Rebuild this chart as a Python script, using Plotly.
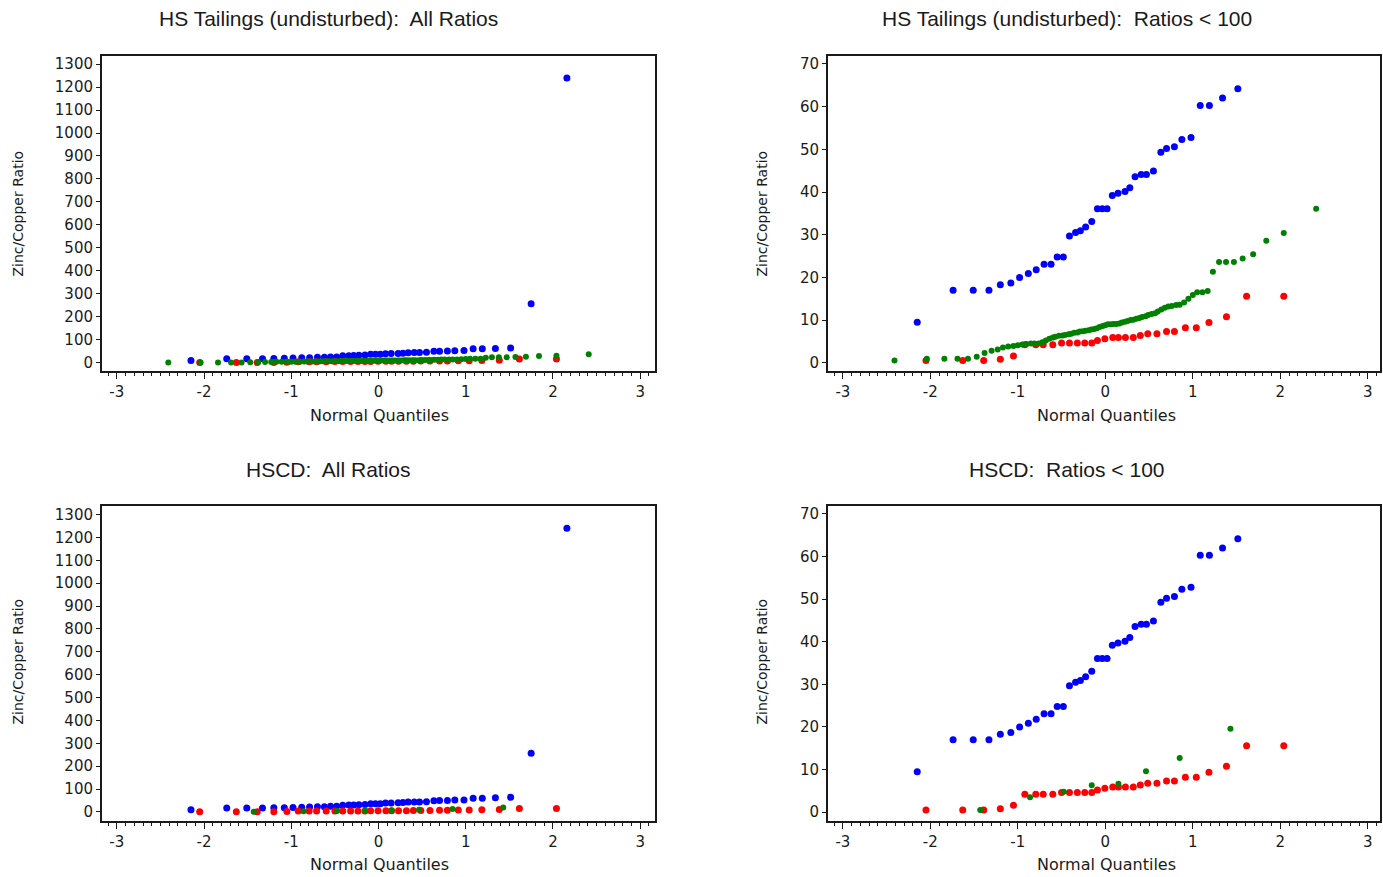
import plotly.graph_objects as go

# ---------------- data: normal quantile (q) and sorted Zn/Cu ratio (v) ----------------
blue_q = [-2.15, -1.74, -1.51, -1.33, -1.20, -1.08, -0.98, -0.88, -0.79, -0.70,
          -0.62, -0.55, -0.48, -0.41, -0.34, -0.285, -0.225, -0.155, -0.09, -0.035,
          0.02, 0.08, 0.145, 0.225, 0.28, 0.34, 0.41, 0.47, 0.55, 0.635,
          0.70, 0.79, 0.875, 0.98, 1.085, 1.19, 1.34, 1.515]
blue_v = [9.5, 17.0, 17.0, 17.0, 18.3, 18.7, 20.0, 20.9, 21.8, 23.1,
          23.1, 24.8, 24.8, 29.7, 30.5, 30.9, 31.8, 33.1, 36.1, 36.1,
          36.1, 39.2, 39.7, 40.1, 41.0, 43.6, 44.1, 44.1, 44.9, 49.3,
          50.2, 50.6, 52.3, 52.8, 60.3, 60.3, 62.0, 64.2]
# blue ratios above 100 (shown only on the "All Ratios" plots)
blue_hi_q = [1.75, 2.16]
blue_hi_v = [257, 1240]

red_q = [-2.05, -1.63, -1.39, -1.20, -1.05, -0.92, -0.795, -0.71, -0.60, -0.50,
         -0.41, -0.32, -0.235, -0.155, -0.09, -0.005, 0.085, 0.15, 0.23, 0.32,
         0.40, 0.485, 0.59, 0.70, 0.79, 0.915, 1.04, 1.185, 1.385, 1.615, 2.04]
red_v = [0.5, 0.5, 0.5, 0.8, 1.6, 4.2, 4.2, 4.2, 4.2, 4.6,
         4.6, 4.6, 4.6, 4.6, 5.2, 5.6, 5.9, 5.9, 5.9, 5.9,
         6.4, 6.8, 6.8, 7.3, 7.3, 8.2, 8.2, 9.4, 10.8, 15.6, 15.6]

# green group, HS Tailings (undisturbed)
green_hs_q = [-2.41, -2.04, -1.84, -1.69, -1.57, -1.47, -1.38, -1.30, -1.23, -1.17,
              -1.11, -1.05, -1.00, -0.95, -0.90, -0.85, -0.81, -0.76, -0.72, -0.68,
              -0.64, -0.60, -0.57, -0.53, -0.49, -0.46, -0.42, -0.39, -0.355, -0.32,
              -0.29, -0.255, -0.225, -0.19, -0.16, -0.125, -0.095, -0.065, -0.03, 0.0,
              0.03, 0.065, 0.095, 0.125, 0.16, 0.19, 0.225, 0.255, 0.29, 0.32,
              0.355, 0.39, 0.42, 0.46, 0.49, 0.53, 0.57, 0.60, 0.64, 0.68,
              0.72, 0.76, 0.81, 0.85, 0.90, 0.95, 1.00, 1.05, 1.11, 1.17,
              1.23, 1.30, 1.38, 1.47, 1.57, 1.69, 1.84, 2.04, 2.41]
green_hs_v = [0.5, 0.95, 0.95, 0.95, 0.95, 1.4, 2.3, 2.8, 3.1, 3.6,
              3.8, 3.9, 4.1, 4.3, 4.4, 4.5, 4.5, 4.5, 4.8, 5.2,
              5.6, 5.9, 6.1, 6.3, 6.4, 6.5, 6.7, 6.8, 7.0, 7.1,
              7.3, 7.4, 7.5, 7.6, 7.8, 7.9, 8.1, 8.4, 8.6, 8.8,
              9.0, 9.0, 9.1, 9.1, 9.2, 9.4, 9.6, 9.8, 10.0, 10.1,
              10.3, 10.5, 10.7, 10.9, 11.2, 11.4, 11.6, 12.0, 12.5, 12.9,
              13.2, 13.3, 13.5, 13.6, 14.1, 15.0, 15.9, 16.5, 16.5, 16.8,
              21.3, 23.6, 23.6, 23.6, 24.4, 25.4, 28.6, 30.4, 36.1]

# green group, HSCD
green_cd_q = [-1.43, -0.86, -0.475, -0.155, 0.15, 0.465, 0.85, 1.43]
green_cd_v = [0.5, 3.5, 4.8, 6.3, 6.7, 9.6, 12.7, 19.6]

x_ticks = [-3, -2, -1, 0, 1, 2, 3]
x_tick_text = ["-3", "-2", "-1", "0", "1", "2", "3"]
y_ticks_all = list(range(0, 1301, 100))
y_ticks_low = list(range(0, 71, 10))

titles = ["HS Tailings (undisturbed):  All Ratios",
          "HS Tailings (undisturbed):  Ratios < 100",
          "HSCD:  All Ratios",
          "HSCD:  Ratios < 100"]

# ---------------- figure geometry (pixels) ----------------
W, H = 1383, 877
FONT = "DejaVu Sans"
TITLE_FONT = "Liberation Sans"
INK = "#1a1a1a"

col_px = [(102, 655), (828, 1380)]          # left/right frame edges
row_px = [(55, 371), (506, 822)]            # top/bottom frame edges
x_range = [[-3.17, 3.17], [-3.17, 3.14]]
y_range_all = [[-37, 1336], [-40, 1338]]
y_range_low = [[-1.97, 71.9], [-2.1, 71.9]]


def px_x(p):
    return p / W


def px_y(p):
    return 1 - p / H


BLUE, RED, GREEN = "#0000ff", "#ff0000", "#008000"

fig = go.Figure()
layout_axes = {}
annotations = []

panel = 0
for r in range(2):
    for c in range(2):
        panel += 1
        sfx = "" if panel == 1 else str(panel)
        xa, ya = "x" + sfx, "y" + sfx
        all_ratios = (c == 0)
        gq, gv = (green_hs_q, green_hs_v) if r == 0 else (green_cd_q, green_cd_v)

        bq = blue_q + (blue_hi_q if all_ratios else [])
        bv = blue_v + (blue_hi_v if all_ratios else [])

        fig.add_trace(go.Scatter(x=bq, y=bv, mode="markers", xaxis=xa, yaxis=ya,
                                 marker=dict(color=BLUE, size=7, line=dict(width=0)),
                                 showlegend=False, hoverinfo="skip"))
        fig.add_trace(go.Scatter(x=red_q, y=red_v, mode="markers", xaxis=xa, yaxis=ya,
                                 marker=dict(color=RED, size=7, line=dict(width=0)),
                                 showlegend=False, hoverinfo="skip"))
        fig.add_trace(go.Scatter(x=gq, y=gv, mode="markers", xaxis=xa, yaxis=ya,
                                 marker=dict(color=GREEN, size=6, line=dict(width=0)),
                                 showlegend=False, hoverinfo="skip"))

        x0, x1 = col_px[c]
        y0, y1 = row_px[r]
        common = dict(showline=True, mirror=True, linecolor=INK, linewidth=2,
                      showgrid=False, zeroline=False, ticks="outside",
                      tickcolor=INK, tickfont=dict(family=FONT, size=15, color=INK))
        layout_axes["xaxis" + sfx] = dict(
            common, domain=[px_x(x0), px_x(x1)], anchor=ya, range=x_range[c],
            tickmode="array", tickvals=x_ticks, ticktext=x_tick_text, ticklen=6,
            minor=dict(tickmode="linear", tick0=0, dtick=0.1, ticks="outside",
                       ticklen=3, tickcolor=INK, showgrid=False))
        yr = y_range_all[r] if all_ratios else y_range_low[r]
        yt = y_ticks_all if all_ratios else y_ticks_low
        layout_axes["yaxis" + sfx] = dict(
            common, domain=[px_y(y1), px_y(y0)], anchor=xa, range=yr,
            tickmode="array", tickvals=yt, ticktext=[str(v) for v in yt], ticklen=4)

        # panel title
        title_cx = 328 if c == 0 else 1067
        title_cy = 18 if r == 0 else 470
        annotations.append(dict(text=titles[panel - 1], x=px_x(title_cx), y=px_y(title_cy),
                                xref="paper", yref="paper", showarrow=False,
                                xanchor="center", yanchor="middle",
                                font=dict(family=TITLE_FONT, size=21, color=INK)))
        # x-axis title
        xt_cx = 379 if c == 0 else 1106
        xt_cy = 415 if r == 0 else 865
        annotations.append(dict(text="Normal Quantiles", x=px_x(xt_cx), y=px_y(xt_cy),
                                xref="paper", yref="paper", showarrow=False,
                                xanchor="center", yanchor="middle",
                                font=dict(family=FONT, size=16, color=INK)))
        # y-axis title
        yt_cx = 18 if c == 0 else 762
        yt_cy = 213 if r == 0 else 662
        annotations.append(dict(text="Zinc/Copper Ratio", x=px_x(yt_cx), y=px_y(yt_cy),
                                xref="paper", yref="paper", showarrow=False, textangle=-90,
                                xanchor="center", yanchor="middle",
                                font=dict(family=FONT, size=14, color=INK)))

fig.update_layout(
    width=W, height=H,
    margin=dict(l=0, r=0, t=0, b=0),
    paper_bgcolor="white", plot_bgcolor="white",
    showlegend=False,
    annotations=annotations,
    **layout_axes,
)

fig.write_html("out.html", config={"displayModeBar": False})
